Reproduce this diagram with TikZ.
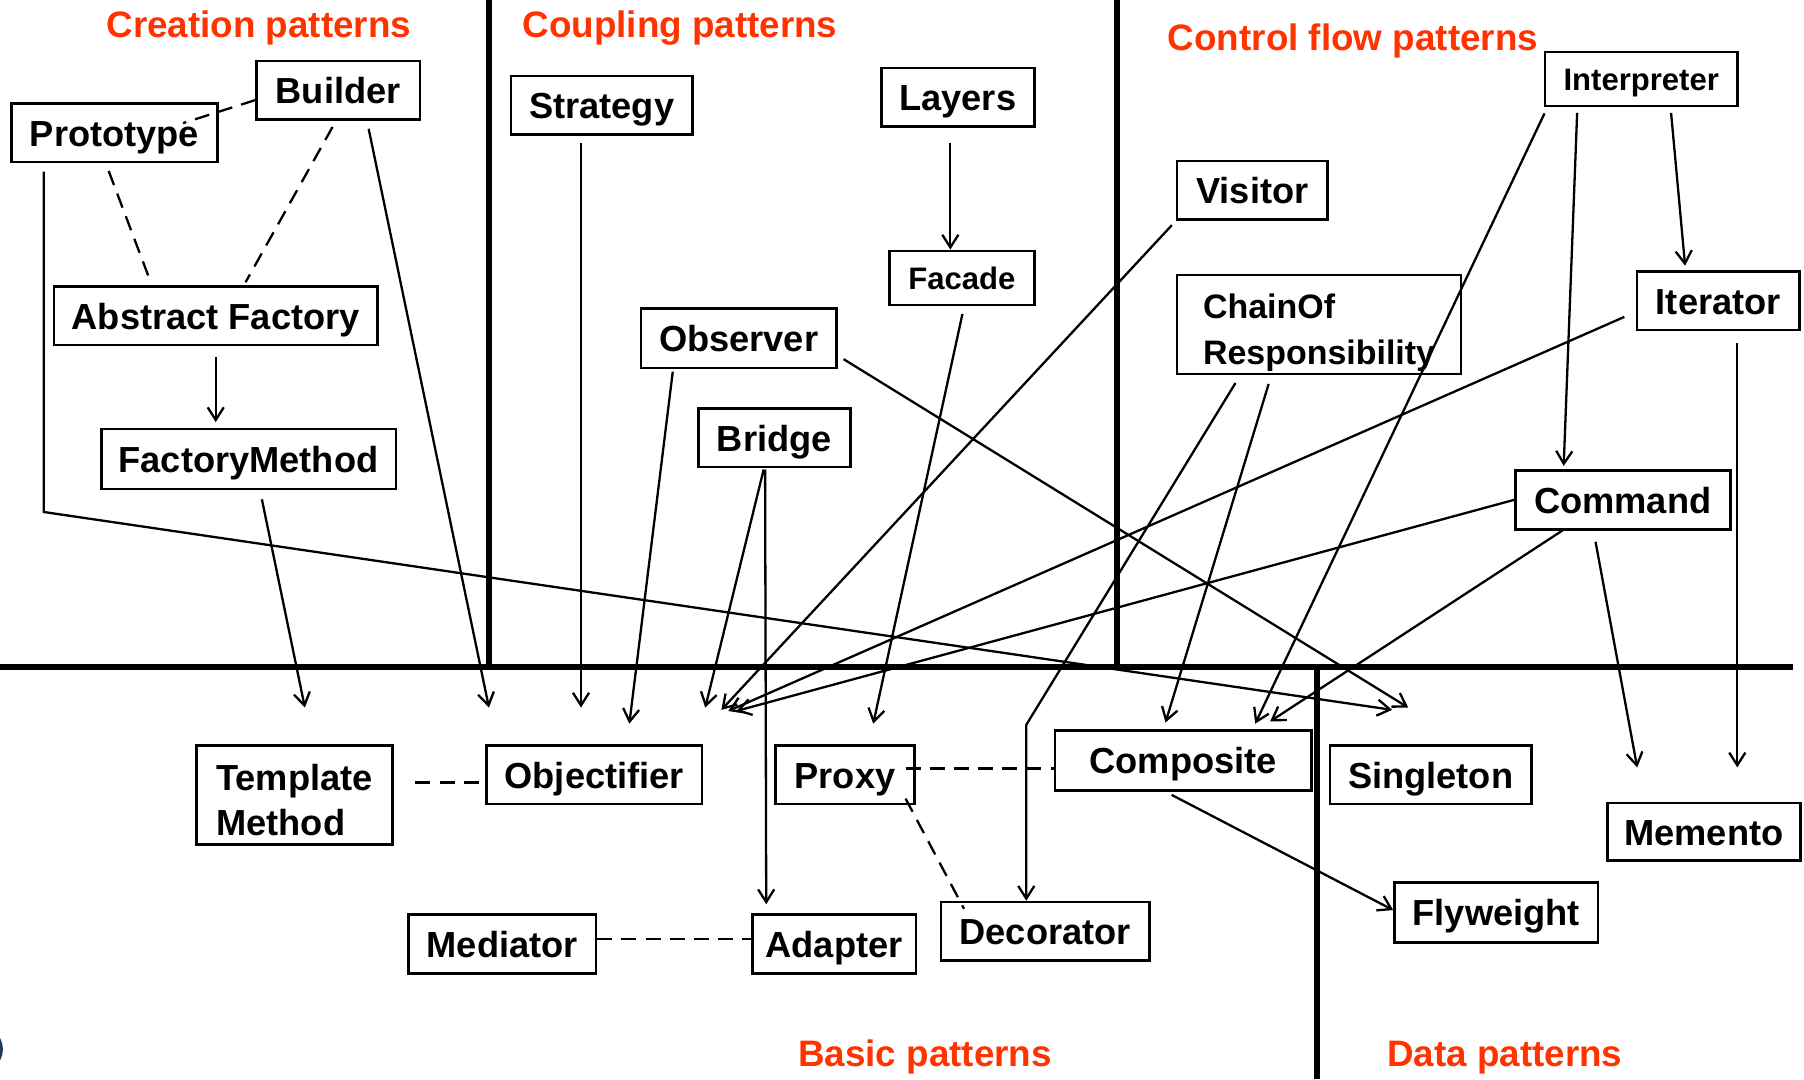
\documentclass[tikz,border=0pt]{standalone}
\usepackage{fontspec}
\setmainfont{Liberation Sans}
\usetikzlibrary{arrows.meta}
\definecolor{titlered}{RGB}{255,51,0}
\definecolor{logoblue}{RGB}{31,58,96}
\newcommand\boxfont{\fontsize{31.5}{39}\selectfont\bfseries}
\newcommand\smallboxfont{\fontsize{27}{32}\selectfont\bfseries}
\newcommand\chainfont{\fontsize{29.5}{40}\selectfont\bfseries}
\newcommand\titlefont{\fontsize{32}{38}\selectfont\bfseries}

\begin{document}
\begin{tikzpicture}[x=1pt,y=-1pt,>={Straight Barb[length=11pt,width=14pt]},
    pat/.style={draw,line width=2.2pt,inner sep=0pt,minimum height=51pt,font=\boxfont},
    one/.style={pat,text height=23pt,text depth=0pt},
    small/.style={pat,font=\smallboxfont,text height=19.5pt,text depth=0pt,minimum height=47pt},
    lnk/.style={line width=2pt},
    arr/.style={lnk,->},
    dep/.style={lnk,dash pattern=on 13pt off 8pt},
    sep/.style={line width=5pt},
    title/.style={text=titlered,font=\titlefont,anchor=base}]
    \useasboundingbox (0,0) rectangle (1568,938);

    % areas
    \draw[sep](425,0)--(425,580);
    \draw[sep](971,0)--(971,580);
    \draw[sep](0,580)--(1558,580);
    \draw[sep](1145,580)--(1145,938);
    \draw[logoblue,line width=3pt](-18,912)circle(19);

    \node[title] (tcreation) at (225,33) {Creation patterns};
    \node[title] (tcoupling) at (591,33) {Coupling patterns};
    \node[title] (tcontrol) at (1176,44) {Control flow patterns};
    \node[title] (tbasic) at (804,927) {Basic patterns};
    \node[title] (tdata) at (1308,927) {Data patterns};

    % creation
    \node[one,minimum width=179pt] (prototype) at (99.5,115.5) {Prototype};
    \node[one,minimum width=142pt] (builder) at (294,78.5) {Builder};
    \node[one,minimum width=281pt] (absfactory) at (187.5,274.5) {Abstract Factory};
    \node[one,minimum width=256pt,minimum height=52pt] (facmethod) at (216,399) {FactoryMethod};
    % coupling
    \node[one,minimum width=158pt] (strategy) at (523,91.5) {Strategy};
    \node[one,minimum width=133pt] (layers) at (832.5,84.5) {Layers};
    \node[small,minimum width=126pt] (facade) at (836,241.5) {Facade};
    \node[one,minimum width=170pt,minimum height=52pt] (observer) at (642,294) {Observer};
    \node[one,minimum width=132pt] (bridge) at (673,380.5) {Bridge};
    % control flow
    \node[one,minimum width=131pt] (visitor) at (1088.5,165.5) {Visitor};
    \node[pat,minimum width=247pt,minimum height=86pt,align=left,font=\chainfont] (chain) at (1146.5,282) {\rule{0pt}{36pt}ChainOf\\Responsibility};
    \node[small,minimum width=167pt] (interp) at (1426.5,68.5) {Interpreter};
    \node[one,minimum width=141pt] (iterator) at (1493.5,261.5) {Iterator};
    \node[one,minimum width=187pt] (command) at (1410.5,434.5) {Command};
    % basic
    \node[pat,minimum width=170pt,minimum height=86pt,align=left] (template) at (256,691) {\rule{0pt}{31pt}Template\\Method};
    \node[one,minimum width=187pt] (objectifier) at (516.5,673.5) {Objectifier};
    \node[one,minimum width=121pt] (proxy) at (734.5,673.5) {Proxy};
    \node[one,minimum width=223pt,minimum height=52pt] (composite) at (1028.5,661) {Composite};
    \node[one,minimum width=163pt] (mediator) at (436.5,820.5) {Mediator};
    \node[one,minimum width=142pt] (adapter) at (725,820.5) {Adapter};
    \node[one,minimum width=181pt] (decorator) at (908.5,809.5) {Decorator};
    % data
    \node[one,minimum width=175pt] (singleton) at (1243.5,673.5) {Singleton};
    \node[one,minimum width=168pt,minimum height=50pt] (memento) at (1481,723) {Memento};
    \node[one,minimum width=177pt,minimum height=52pt] (flyweight) at (1300.5,793) {Flyweight};

    % free arrow ends
    \coordinate (tTM) at (265,615);
    \coordinate (tOb1) at (425,615);
    \coordinate (tOb2) at (505,615);
    \coordinate (tOb3) at (547,629);
    \coordinate (tOb4) at (613,615);
    \coordinate (tOb5) at (627,617);
    \coordinate (tOb6) at (633,618);
    \coordinate (tOb7) at (640,618);
    \coordinate (tPx) at (759,629);
    \coordinate (tCo1) at (1013,628);
    \coordinate (tCo2) at (1091,629);
    \coordinate (tCo3) at (1104,627);
    \coordinate (tSi1) at (1210,617);
    \coordinate (tSi2) at (1224,615);
    \coordinate (tMe1) at (1423,667);
    \coordinate (tMe2) at (1510,667);
    \coordinate (bendP) at (38,445);
    \coordinate (bendC) at (892,630);

    % dependencies
    \draw[dep]([yshift=-8.5pt]builder.west)--([xshift=-31pt,yshift=8.5pt]prototype.east);
    \draw[dep,shorten <=7pt,shorten >=3pt]([xshift=-7.5pt]prototype.south)--([xshift=-55.5pt]absfactory.north);
    \draw[dep,shorten <=6pt,shorten >=3pt]([xshift=-2pt]builder.south)--([xshift=24.5pt]absfactory.north);
    \draw[dep,shorten <=19pt]([yshift=11pt]template.east)--([yshift=-6.5pt]objectifier.west);
    \draw[dep]([xshift=-9pt,yshift=5.5pt]proxy.east)--([yshift=-7pt]composite.west);
    \draw[dep]([xshift=-9pt,yshift=6pt]proxy.south east)--([xshift=21pt,yshift=-7pt]decorator.north west);
    \draw[dep]([yshift=4.5pt]mediator.east)--([yshift=4.5pt]adapter.west);

    % uses
    \draw[arr,shorten <=9pt,shorten >=5pt](absfactory.south)--(absfactory.south |- facmethod.north);
    \draw[arr,shorten <=8pt]([xshift=10pt]facmethod.south)--(tTM);
    \draw[arr,shorten <=7pt]([xshift=25pt]builder.south)--(tOb1);
    \draw[arr,shorten <=7pt]([xshift=-61.5pt]prototype.south)--(bendP)--(tSi1);
    \draw[arr,shorten <=6pt]([xshift=-18pt]strategy.south)--(tOb2);
    \draw[arr,shorten <=13pt]([xshift=-6.5pt]layers.south)--([xshift=-10pt]facade.north);
    \draw[arr,shorten <=7pt]([xshift=2pt]facade.south)--(tPx);
    \draw[arr,shorten <=2pt]([xshift=-57pt]observer.south)--(tOb3);
    \draw[arr,shorten <=6pt]([yshift=-15pt]observer.east)--(tSi2);
    \draw[arr,shorten <=1pt]([xshift=-9pt]bridge.south)--(tOb4);
    \draw[arr,shorten <=1pt,shorten >=8pt]([xshift=-8pt]bridge.south)--([xshift=-59pt]adapter.north);
    \draw[arr,shorten <=5pt](visitor.south west)--(tOb5);
    \draw[arr,shorten <=8pt]([xshift=-68.5pt]chain.south)--(bendC)--([xshift=-16.5pt]decorator.north);
    \draw[arr,shorten <=8pt]([xshift=-41.5pt]chain.south)--(tCo1);
    \draw[arr,shorten <=6pt]([xshift=-81.5pt]interp.south)--(tCo2);
    \draw[arr,shorten <=5pt,shorten >=3pt]([xshift=-55.5pt]interp.south)--([xshift=-51.5pt]command.north);
    \draw[arr,shorten <=5pt,shorten >=4pt]([xshift=25.5pt]interp.south)--([xshift=-28.5pt]iterator.north);
    \draw[arr,shorten <=11pt]([yshift=-9.5pt]iterator.west)--(tOb6);
    \draw[arr,shorten <=10pt]([xshift=16.5pt]iterator.south)--(tMe2);
    \draw[arr](command.west)--(tOb7);
    \draw[arr]([xshift=-52.5pt]command.south)--(tCo3);
    \draw[arr,shorten <=10pt]([xshift=-25.5pt]command.south)--(tMe1);
    \draw[arr,shorten <=6pt]([xshift=-15.5pt]composite.south)--([yshift=2pt]flyweight.west);
\end{tikzpicture}
\end{document}
